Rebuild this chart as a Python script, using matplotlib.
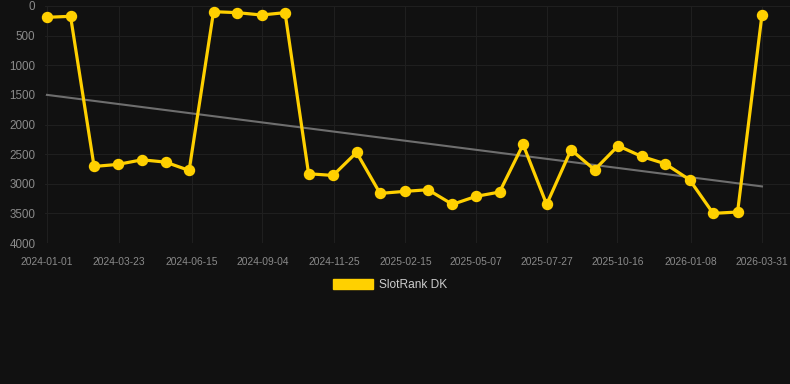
import matplotlib
matplotlib.use("Agg")
import matplotlib.pyplot as plt
import matplotlib.dates as mdates
import matplotlib.patches as mpatches
import numpy as np
import pandas as pd

plt.rcParams["font.family"] = ["Liberation Sans", "DejaVu Sans"]

dates = ["2024-01-01", "2024-01-28", "2024-02-24", "2024-03-22", "2024-04-19",
         "2024-05-16", "2024-06-12", "2024-07-10", "2024-08-06", "2024-09-03",
         "2024-09-30", "2024-10-27", "2024-11-24", "2024-12-21", "2025-01-17",
         "2025-02-14", "2025-03-13", "2025-04-10", "2025-05-07", "2025-06-03",
         "2025-06-30", "2025-07-27", "2025-08-24", "2025-09-20", "2025-10-17",
         "2025-11-13", "2025-12-10", "2026-01-07", "2026-02-03", "2026-03-03",
         "2026-03-31"]
ranks = [191, 174, 2708, 2674, 2596, 2635, 2775, 96, 112, 152,
         112, 2831, 2860, 2472, 3163, 3129, 3101, 3348, 3213, 3140,
         2337, 3348, 2427, 2764, 2360, 2539, 2663, 2933, 3500, 3477,
         146]
trend_dates = ["2024-01-01", "2026-03-31"]
trend_values = [1500, 3045]
tick_labels = ["2024-01-01", "2024-03-23", "2024-06-15", "2024-09-04", "2024-11-25",
               "2025-02-15", "2025-05-07", "2025-07-27", "2025-10-16", "2026-01-08",
               "2026-03-31"]
y_ticks = [0, 500, 1000, 1500, 2000, 2500, 3000, 3500, 4000]
series_name = "SlotRank DK"

BG = "#111111"
YELLOW = "#FFD000"

fig = plt.figure(figsize=(7.9, 3.84), dpi=100, facecolor=BG)
ax = fig.add_axes([45 / 790, 1 - 243 / 384, 1 - 45 / 790, (243 - 6) / 384])
ax.set_facecolor(BG)

x = pd.to_datetime(dates)
ax.plot(pd.to_datetime(trend_dates), trend_values, color="#6e6e6e", lw=1.5, zorder=2)
ax.plot(x, ranks, color=YELLOW, lw=2.3, marker="o", markersize=7.2,
        markerfacecolor=YELLOW, markeredgecolor=YELLOW, zorder=3, clip_on=False)

ax.set_ylim(4000, 0)
ax.set_yticks(y_ticks)
ax.set_yticklabels([str(v) for v in y_ticks])

tick_dates = pd.to_datetime(tick_labels)
ax.set_xticks(tick_dates)
ax.set_xticklabels(tick_labels)
x0 = mdates.date2num(pd.Timestamp("2024-01-01"))
x1 = mdates.date2num(pd.Timestamp("2026-03-31"))
per_px = (x1 - x0) / (762 - 47)
ax.set_xlim(x0 - 2 * per_px, x1 + 28 * per_px)

ax.grid(True, color="#1f1f1f", lw=0.8)
ax.set_axisbelow(True)
for s in ax.spines.values():
    s.set_visible(False)
ax.tick_params(axis="y", length=0, pad=7, labelsize=8.4, labelcolor="#8a8a8a")
ax.tick_params(axis="x", length=0, pad=10, labelsize=7.4, labelcolor="#8a8a8a")

handle = mpatches.Patch(facecolor=YELLOW, edgecolor=YELLOW, label=series_name)
leg = fig.legend(handles=[handle], loc="center", bbox_to_anchor=(390 / 790, 1 - 285 / 384),
                 frameon=False, fontsize=8.6, handlelength=3.3, handleheight=1.0,
                 handletextpad=0.5, labelcolor="#cccccc")

fig.savefig("out.png", dpi=100, facecolor=BG)
